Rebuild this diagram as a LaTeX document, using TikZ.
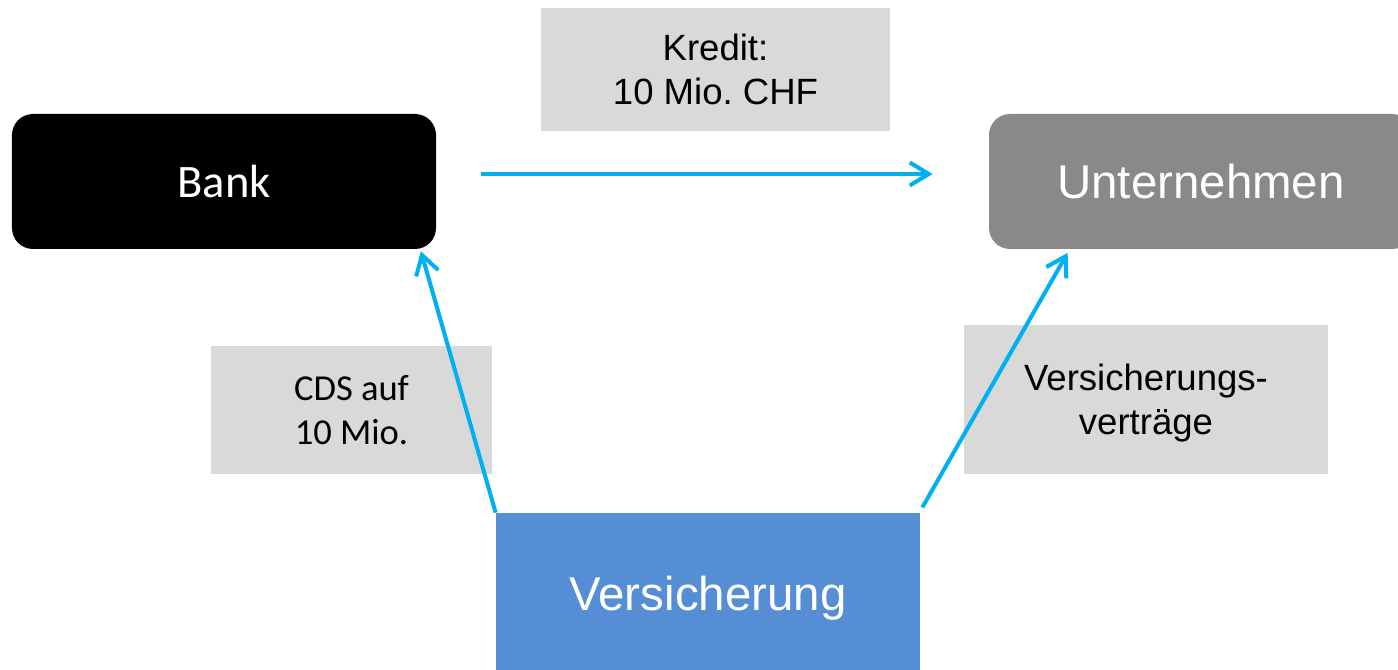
\documentclass[tikz,border=0pt]{standalone}
\usepackage{fontspec}
\setmainfont{Liberation Sans}
\newfontfamily\calibrilike{Carlito}
\usetikzlibrary{arrows.meta}
\frenchspacing

\definecolor{flowcyan}{HTML}{00B0F0}
\definecolor{insblue}{HTML}{558ED5}
\definecolor{firmgray}{HTML}{898989}
\definecolor{notegray}{HTML}{D9D9D9}

\tikzset{
  party/.style={inner sep=0pt, text=white, text depth=0pt,
    minimum width=8.48cm, minimum height=2.7cm},
  note/.style={fill=notegray, inner sep=0pt, align=center, text depth=0pt,
    font=\fontsize{20.8}{25}\selectfont},
  flow/.style={draw=flowcyan, line width=2.3pt,
    -{Straight Barb[length=0.38cm, width=0.46cm]}},
}

\begin{document}
\begin{tikzpicture}
  \useasboundingbox (0,0) rectangle (27.96,-13.4);
  \clip (0,0) rectangle (27.96,-13.4);

  % explanatory notes
  \node[note, minimum width=6.98cm, minimum height=2.46cm] (kredit)
    at (14.31,-1.39) {Kredit:\\10 Mio. CHF};
  \node[note, minimum width=5.62cm, minimum height=2.56cm,
    font=\calibrilike\fontsize{20.8}{25}\selectfont] (cds)
    at (7.03,-8.2) {CDS auf\\10 Mio.};
  \node[note, minimum width=7.28cm, minimum height=2.98cm] (vertrag)
    at (22.92,-7.99) {Versicherungs-\\verträge};

  % the three parties
  \node[party, fill=black, rounded corners=0.42cm,
    font=\calibrilike\fontsize{26.5}{30}\selectfont] (bank)
    at (4.48,-3.63) {Bank};
  \node[party, fill=firmgray, rounded corners=0.42cm,
    font=\fontsize{27}{32}\selectfont] (firma)
    at (24.02,-3.63) {Unternehmen};
  \node[party, fill=insblue, minimum height=3.22cm,
    font=\fontsize{27}{32}\selectfont] (versich)
    at (14.16,-11.87) {Versicherung};

  % flows between the parties
  \draw[flow, shorten <=0.9cm, shorten >=1.12cm]
    ([yshift=0.15cm]bank.east) -- ([yshift=0.15cm]firma.west);
  \draw[flow, shorten >=0.04cm]
    (versich.north west) -- ([xshift=-0.32cm]bank.south east);
  \draw[flow, shorten <=0.12cm, shorten >=0.08cm]
    ([xshift=-0.02cm]versich.north east) -- ([xshift=1.62cm]firma.south west);
\end{tikzpicture}
\end{document}
